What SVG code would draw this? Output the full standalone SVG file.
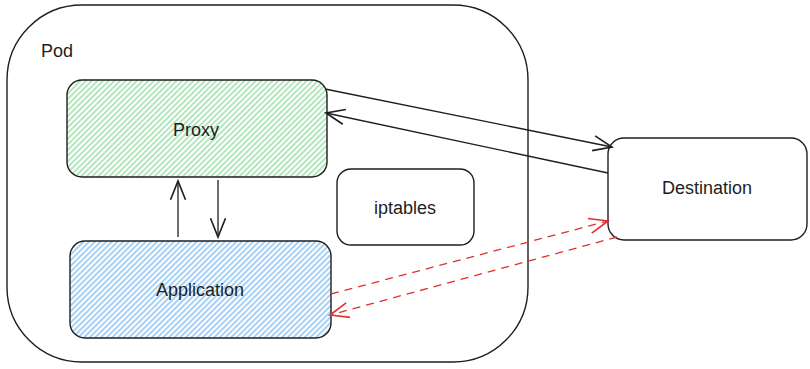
<svg xmlns="http://www.w3.org/2000/svg" width="810" height="369" viewBox="0 0 810 369">
<style>
.box{fill:none;stroke:#1e1e1e;stroke-width:1.4}
.lbl{font-family:"Liberation Sans",Arial,sans-serif;font-size:18px;fill:#1e1e1e;text-anchor:middle}
.conn{fill:none;stroke:#1e1e1e;stroke-width:1.3}
.red{fill:none;stroke:#e03131;stroke-width:1.3;stroke-dasharray:8 6}
</style>
<defs>
<pattern id="hg" patternUnits="userSpaceOnUse" width="4" height="4" patternTransform="rotate(-45)">
<rect width="4" height="4" fill="#ffffff"/>
<line x1="0" y1="2" x2="4" y2="2" stroke="#40c057" stroke-width="1" opacity="0.8"/>
</pattern>
<pattern id="hb" patternUnits="userSpaceOnUse" width="4" height="4" patternTransform="rotate(-45)">
<rect width="4" height="4" fill="#ffffff"/>
<line x1="0" y1="2" x2="4" y2="2" stroke="#228be6" stroke-width="1" opacity="0.8"/>
</pattern>
<marker id="ab" markerUnits="userSpaceOnUse" markerWidth="30" markerHeight="30" viewBox="-20 -10 24 20" refX="0" refY="0" orient="auto" overflow="visible">
<path d="M-15,-6 L0,0 L-15,6" fill="none" stroke="#1e1e1e" stroke-width="1.3"/>
</marker>
<marker id="ar" markerUnits="userSpaceOnUse" markerWidth="30" markerHeight="30" viewBox="-20 -10 24 20" refX="0" refY="0" orient="auto" overflow="visible">
<path d="M-15,-6 L0,0 L-15,6" fill="none" stroke="#e03131" stroke-width="1.3"/>
</marker>
</defs>
<g id="pod">
<rect class="box" x="7" y="5" width="521" height="357" rx="75" ry="75"/>
<text class="lbl" x="41" y="57" style="text-anchor:start">Pod</text>
</g>
<g id="proxy">
<rect class="box" x="67" y="80" width="260" height="97" rx="15" fill="url(#hg)" style="fill:url(#hg)"/>
<text class="lbl" x="196" y="136">Proxy</text>
</g>
<g id="application">
<rect class="box" x="70" y="241" width="261" height="97" rx="15" style="fill:url(#hb)"/>
<text class="lbl" x="200" y="296">Application</text>
</g>
<g id="iptables">
<rect class="box" x="337" y="169" width="137" height="76" rx="14"/>
<text class="lbl" x="405" y="214">iptables</text>
</g>
<g id="destination">
<rect class="box" x="608" y="138" width="199" height="102" rx="16"/>
<text class="lbl" x="707" y="194">Destination</text>
</g>
<g id="connectors">
<line class="conn" x1="325" y1="89" x2="612" y2="147" marker-end="url(#ab)"/>
<line class="conn" x1="608" y1="173" x2="326" y2="113" marker-end="url(#ab)"/>
<line class="conn" x1="178" y1="237" x2="178" y2="181" marker-end="url(#ab)"/>
<line class="conn" x1="218" y1="180" x2="218" y2="237" marker-end="url(#ab)"/>
<line class="red" x1="331" y1="294" x2="608" y2="221" marker-end="url(#ar)"/>
<line class="red" x1="617" y1="237" x2="330" y2="315" marker-end="url(#ar)"/>
</g>
</svg>
